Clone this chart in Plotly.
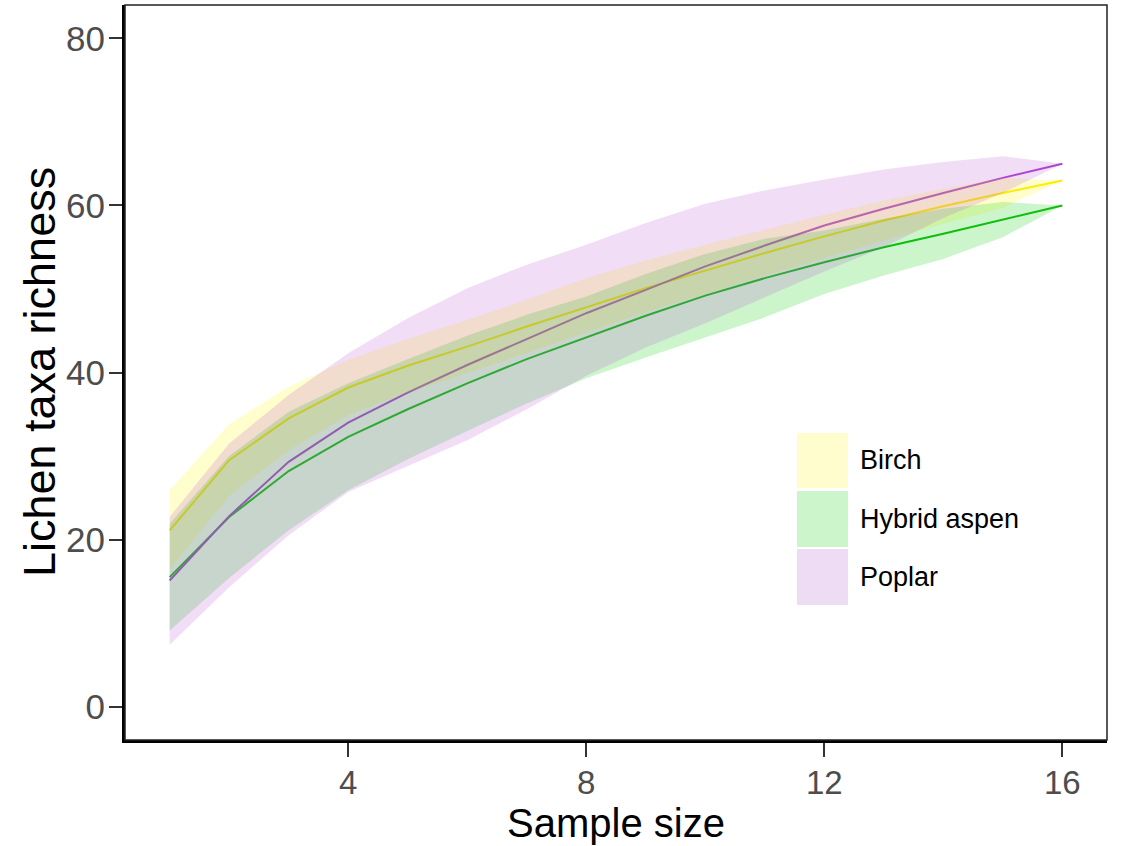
import plotly.graph_objects as go

samples = list(range(1, 17))

birch = [21.1, 29.5, 34.5, 38.2, 40.8, 43.1, 45.5, 47.8, 50.1, 52.2, 54.3, 56.3, 58.2, 59.9, 61.5, 63.0]
birch_hi = [25.9, 33.8, 38.3, 41.5, 44.0, 46.3, 48.7, 51.3, 53.4, 55.3, 57.1, 58.9, 60.6, 62.0, 63.3, 63.0]
birch_lo = [16.4, 25.2, 30.7, 34.9, 37.6, 39.9, 42.3, 44.8, 47.2, 49.4, 51.6, 53.7, 55.8, 57.8, 59.7, 63.0]

aspen = [15.5, 22.7, 28.2, 32.3, 35.6, 38.7, 41.6, 44.2, 46.8, 49.2, 51.3, 53.2, 55.0, 56.6, 58.3, 60.0]
aspen_hi = [21.9, 30.0, 35.3, 38.7, 41.6, 44.4, 46.9, 49.1, 51.8, 54.2, 56.0, 57.0, 58.4, 59.6, 60.4, 60.0]
aspen_lo = [9.1, 15.4, 21.1, 25.9, 29.6, 33.0, 36.3, 39.3, 41.8, 44.2, 46.6, 49.4, 51.6, 53.6, 56.2, 60.0]

poplar = [15.1, 22.8, 29.3, 34.0, 37.6, 40.9, 44.0, 47.1, 49.9, 52.7, 55.2, 57.6, 59.6, 61.5, 63.3, 65.0]
poplar_hi = [22.7, 31.5, 37.3, 42.3, 46.5, 50.1, 52.9, 55.3, 57.9, 60.2, 61.8, 63.1, 64.3, 65.2, 65.9, 65.0]
poplar_lo = [7.4, 14.3, 20.5, 25.7, 28.8, 31.9, 35.6, 39.6, 43.0, 45.9, 49.0, 52.1, 55.0, 58.5, 61.5, 65.0]

names = ["Birch", "Hybrid aspen", "Poplar"]
line_colors = ["#FFEA00", "#11BB11", "#AA44D4"]
fill_colors = ["rgba(255,252,0,0.2)", "rgba(0,205,0,0.2)", "rgba(186,85,211,0.2)"]
legend_colors = ["#FFFDCD", "#CCF5CC", "#EEDCF5"]
x_ticks = [4, 8, 12, 16]
y_ticks = [0, 20, 40, 60, 80]

series = [(birch, birch_lo, birch_hi), (aspen, aspen_lo, aspen_hi), (poplar, poplar_lo, poplar_hi)]

fig = go.Figure()

# lines first (ribbons are drawn over them)
for (mid, lo, hi), name, lc in zip(series, names, line_colors):
    fig.add_trace(go.Scatter(x=samples, y=mid, mode="lines", name=name,
                             line=dict(color=lc, width=2), showlegend=False))

for (mid, lo, hi), name, fc in zip(series, names, fill_colors):
    fig.add_trace(go.Scatter(x=samples + samples[::-1], y=hi + lo[::-1],
                             mode="lines", fill="toself", fillcolor=fc,
                             line=dict(width=0), name=name, showlegend=False,
                             hoverinfo="skip"))

font_family = "Liberation Sans, Arial, sans-serif"

# manual legend (large swatches)
sw_x0, sw_x1 = 0.6843, 0.7363
sw_rows = [(0.4177, 0.3429), (0.3388, 0.2626), (0.2599, 0.1837)]
shapes = []
annotations = []
for (top, bot), name, c in zip(sw_rows, names, legend_colors):
    shapes.append(dict(type="rect", xref="paper", yref="paper", x0=sw_x0, x1=sw_x1,
                       y0=bot, y1=top, fillcolor=c, line=dict(width=0), layer="above"))
    annotations.append(dict(xref="paper", yref="paper", x=0.7464, y=(top + bot) / 2,
                            text=name, showarrow=False, xanchor="left", yanchor="middle",
                            font=dict(family=font_family, size=27, color="black")))

# y axis title as rotated annotation
annotations.append(dict(xref="paper", yref="paper", x=-0.087, y=0.5, text="Lichen taxa richness",
                        textangle=-90, showarrow=False, xanchor="center", yanchor="middle",
                        font=dict(family=font_family, size=45, color="black")))

# thin top/right border
shapes.append(dict(type="rect", xref="paper", yref="paper", x0=0, x1=1, y0=0, y1=1,
                   line=dict(color="#222222", width=1.5), layer="above"))

fig.update_layout(
    width=1125, height=846,
    margin=dict(l=125, r=18, t=5, b=106),
    paper_bgcolor="white", plot_bgcolor="white",
    showlegend=False,
    shapes=shapes, annotations=annotations,
    font=dict(family=font_family),
)

fig.update_xaxes(range=[0.25, 16.75], tickvals=x_ticks, showgrid=False, zeroline=False,
                 showline=True, linewidth=3, linecolor="black", automargin=False,
                 ticks="outside", ticklen=14, tickwidth=1.5, tickcolor="#333333",
                 tickfont=dict(size=33, color="#4D4D4D", family=font_family),
                 ticklabelstandoff=-3,
                 title=dict(text="Sample size", font=dict(size=40, color="black", family=font_family),
                            standoff=0))
fig.update_yaxes(range=[-4, 84], tickvals=y_ticks, showgrid=False, zeroline=False,
                 showline=True, linewidth=3, linecolor="black", automargin=False,
                 ticks="outside", ticklen=13, tickwidth=1.5, tickcolor="#333333",
                 tickfont=dict(size=35, color="#4D4D4D", family=font_family),
                 ticklabelstandoff=-3)

fig.write_html("out.html", config={"displayModeBar": False},
               post_script="document.body.style.margin='0';")
